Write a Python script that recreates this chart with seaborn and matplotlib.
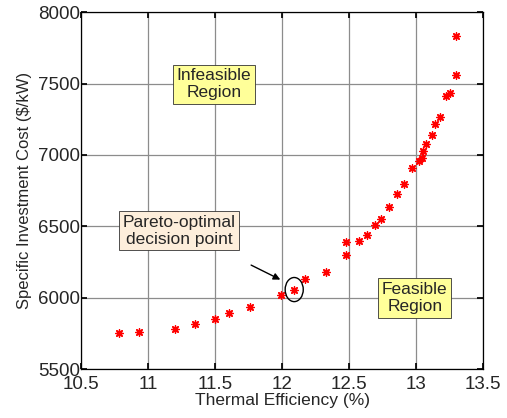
import matplotlib
matplotlib.use("Agg")
import matplotlib.pyplot as plt
import seaborn as sns
import pandas as pd
from matplotlib.patches import Ellipse

efficiency = [10.78, 10.93, 11.20, 11.35, 11.50, 11.60, 11.76, 11.99, 12.09,
              12.17, 12.33, 12.48, 12.48, 12.57, 12.63, 12.69, 12.74, 12.80,
              12.86, 12.91, 12.97, 13.02, 13.04, 13.05, 13.07, 13.12, 13.14,
              13.18, 13.22, 13.25, 13.30, 13.30]
cost = [5750, 5758, 5780, 5816, 5850, 5890, 5937, 6022, 6057,
        6130, 6183, 6300, 6392, 6394, 6441, 6511, 6551, 6638,
        6728, 6797, 6909, 6954, 6978, 7030, 7078, 7136, 7218,
        7265, 7410, 7433, 7558, 7834]
xticks = [10.5, 11, 11.5, 12, 12.5, 13, 13.5]
yticks = [5500, 6000, 6500, 7000, 7500, 8000]

df = pd.DataFrame({"eff": efficiency, "cost": cost})

sns.set_theme(style="white")
plt.rcParams['font.family'] = ['Liberation Sans', 'DejaVu Sans']

fig = plt.figure(figsize=(5.07, 4.18), dpi=100)
ax = fig.add_axes([0.160, 0.117, 0.793, 0.854])

sns.scatterplot(data=df, x="eff", y="cost", ax=ax, marker=(8, 2, 0),
                color="red", s=28, linewidth=1.0, edgecolor="red", zorder=3)

ax.set_xlim(10.5, 13.5)
ax.set_ylim(5500, 8000)
ax.set_xticks(xticks)
ax.set_xticklabels([f"{t:g}" for t in xticks])
ax.set_yticks(yticks)
ax.set_yticklabels([str(t) for t in yticks])
ax.grid(True, color="#8c8c8c", linewidth=0.9)
ax.tick_params(direction="in", length=4, labelsize=13.5, color="black",
               top=True, right=True, bottom=True, left=True, pad=1)
ax.tick_params(axis="x", pad=5)
for sp in ax.spines.values():
    sp.set_color("black")
    sp.set_linewidth(0.9)
ax.set_xlabel("Thermal Efficiency (%)", fontsize=12.5, labelpad=0)
ax.set_ylabel("Specific Investment Cost ($/kW)", fontsize=12, labelpad=4)

box_kw = dict(ha="center", va="center", fontsize=12.5, linespacing=1.15, zorder=5)
ax.text(11.49, 7494, "Infeasible\nRegion",
        bbox=dict(boxstyle="square,pad=0.22", facecolor="#ffff99", edgecolor="#333333", linewidth=0.6),
        **box_kw)
ax.text(11.23, 6469, "Pareto-optimal\ndecision point",
        bbox=dict(boxstyle="square,pad=0.22", facecolor="#fdeedb", edgecolor="#333333", linewidth=0.6),
        **box_kw)
ax.text(12.99, 5999, "Feasible\nRegion",
        bbox=dict(boxstyle="square,pad=0.22", facecolor="#ffff99", edgecolor="#333333", linewidth=0.6),
        **box_kw)

ax.annotate("", xy=(12.005, 6118), xytext=(11.75, 6237),
            arrowprops=dict(arrowstyle="-|>", color="black", lw=1.0, mutation_scale=10),
            zorder=5)
ax.add_patch(Ellipse((12.09, 6057), 0.135, 169, fill=False, edgecolor="black",
                     linewidth=1.0, zorder=5))

fig.savefig("out.png", dpi=100)
